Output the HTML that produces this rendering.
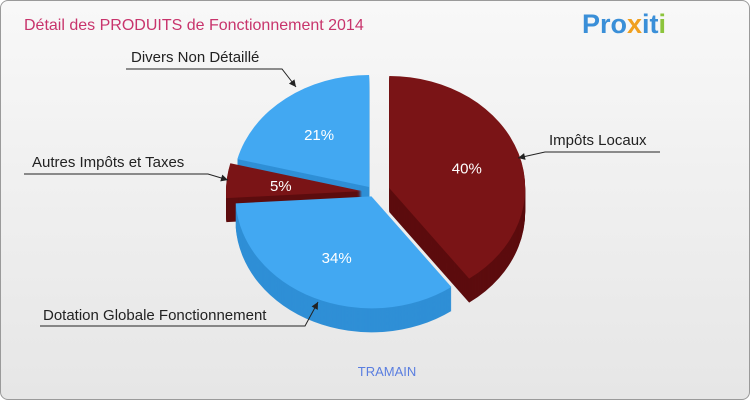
<!DOCTYPE html>
<html><head><meta charset="utf-8">
<style>
html,body{margin:0;padding:0;}
body{width:750px;height:400px;overflow:hidden;font-family:"Liberation Sans",sans-serif;}
#frame{position:absolute;left:0;top:0;width:748px;height:398px;border:1px solid #9a9a9a;border-radius:8px;background:linear-gradient(#f8f8f8,#e6e6e6);}
</style></head>
<body>
<div id="frame">
<svg id="chart" width="750" height="400" style="position:absolute;left:-1px;top:-1px">
<text x="24" y="30" font-size="16" fill="#c8346c">Détail des PRODUITS de Fonctionnement 2014</text>
<text x="582" y="33" font-size="27" font-weight="bold"><tspan fill="#3a8fd8">Pro</tspan><tspan fill="#f0a020">x</tspan><tspan fill="#3a8fd8">it</tspan><tspan fill="#8cc43c">i</tspan></text>
<text x="387" y="376" font-size="13" fill="#5a7ee0" text-anchor="middle">TRAMAIN</text>
<g id="slices"></g>
<g id="labels"></g>
</svg>
</div>
<script>
const categories=["Impôts Locaux","Dotation Globale Fonctionnement","Autres Impôts et Taxes","Divers Non Détaillé"];
const values=[40,34,5,21];
const pctLabels=["40%","34%","5%","21%"];
const topColors=["#7a1416","#42a8f2","#7a1416","#42a8f2"];
const sideColors=["#5c0c0e","#2f8fd6","#5c0c0e","#2f8fd6"];
const explode=[16,6,12,8];
const cx=374,cy=192,rx=136,ry=112,depth=24;
const svgNS="http://www.w3.org/2000/svg";
const total=values.reduce((a,b)=>a+b,0);
function pt(a,r,ox,oy){return [ox+rx*r*Math.sin(a),oy-ry*r*Math.cos(a)];}
function slicePath(a0,a1,ox,oy){
  const p0=pt(a0,1,ox,oy),p1=pt(a1,1,ox,oy);
  const large=(a1-a0)>Math.PI?1:0;
  return `M${ox},${oy} L${p0[0]},${p0[1]} A${rx},${ry} 0 ${large} 1 ${p1[0]},${p1[1]} Z`;
}
const sl=[];let acc=0;
values.forEach((v,i)=>{const a0=acc/total*2*Math.PI;acc+=v;const a1=acc/total*2*Math.PI;sl.push({i,a0,a1,mid:(a0+a1)/2});});
const order=sl.slice().sort((a,b)=>(-Math.cos(a.mid))-(-Math.cos(b.mid)));
const g=document.getElementById('slices');
order.forEach(s=>{
  const ox=cx+explode[s.i]*Math.sin(s.mid),oy=cy-explode[s.i]*0.8*Math.cos(s.mid);
  const grp=document.createElementNS(svgNS,'g');
  
  
  for(let d=depth;d>0;d-=1){
    const p=document.createElementNS(svgNS,'path');
    p.setAttribute('d',slicePath(s.a0,s.a1,ox,oy+d));
    p.setAttribute('fill',sideColors[s.i]);
    grp.appendChild(p);
  }
  const t=document.createElementNS(svgNS,'path');
  t.setAttribute('d',slicePath(s.a0,s.a1,ox,oy));
  t.setAttribute('fill',topColors[s.i]);
  grp.appendChild(t);
  const lp=pt(s.mid,0.6,ox,oy);
  const tx=document.createElementNS(svgNS,'text');
  tx.setAttribute('x',lp[0]);tx.setAttribute('y',lp[1]+6);
  tx.setAttribute('fill','#ffffff');tx.setAttribute('font-size','15');tx.setAttribute('text-anchor','middle');
  
  
  tx.textContent=pctLabels[s.i];
  grp.appendChild(tx);
  g.appendChild(grp);
});
const callouts=[
 {i:0,tx:549,ty:145,anchor:"start",line:[[660,152],[545,152],[518,158]]},
 {i:1,tx:43,ty:320,anchor:"start",line:[[40,326],[305,326],[318,302]]},
 {i:2,tx:32,ty:167,anchor:"start",line:[[24,174],[208,174],[228,180]]},
 {i:3,tx:131,ty:62,anchor:"start",line:[[126,69],[282,69],[296,87]]}
];
const lg=document.getElementById('labels');
callouts.forEach(c=>{
  const pl=document.createElementNS(svgNS,'polyline');
  pl.setAttribute('points',c.line.map(p=>p.join(',')).join(' '));
  pl.setAttribute('fill','none');pl.setAttribute('stroke','#222');pl.setAttribute('stroke-width','1');
  
  
  lg.appendChild(pl);
  const last=c.line[c.line.length-1],prev=c.line[c.line.length-2];
  const ang=Math.atan2(last[1]-prev[1],last[0]-prev[0]);
  const ar=document.createElementNS(svgNS,'path');
  const L=7,W=3.5;
  const bx=last[0]-L*Math.cos(ang),by=last[1]-L*Math.sin(ang);
  ar.setAttribute('d',`M${last[0]},${last[1]} L${bx+W*Math.sin(ang)},${by-W*Math.cos(ang)} L${bx-W*Math.sin(ang)},${by+W*Math.cos(ang)} Z`);
  ar.setAttribute('fill','#222');
  
  
  lg.appendChild(ar);
  const t=document.createElementNS(svgNS,'text');
  t.setAttribute('x',c.tx);t.setAttribute('y',c.ty);t.setAttribute('font-size','15');t.setAttribute('fill','#222');
  t.setAttribute('text-anchor',c.anchor);
  
  
  t.textContent=categories[c.i];
  lg.appendChild(t);
});
</script>
</body></html>
